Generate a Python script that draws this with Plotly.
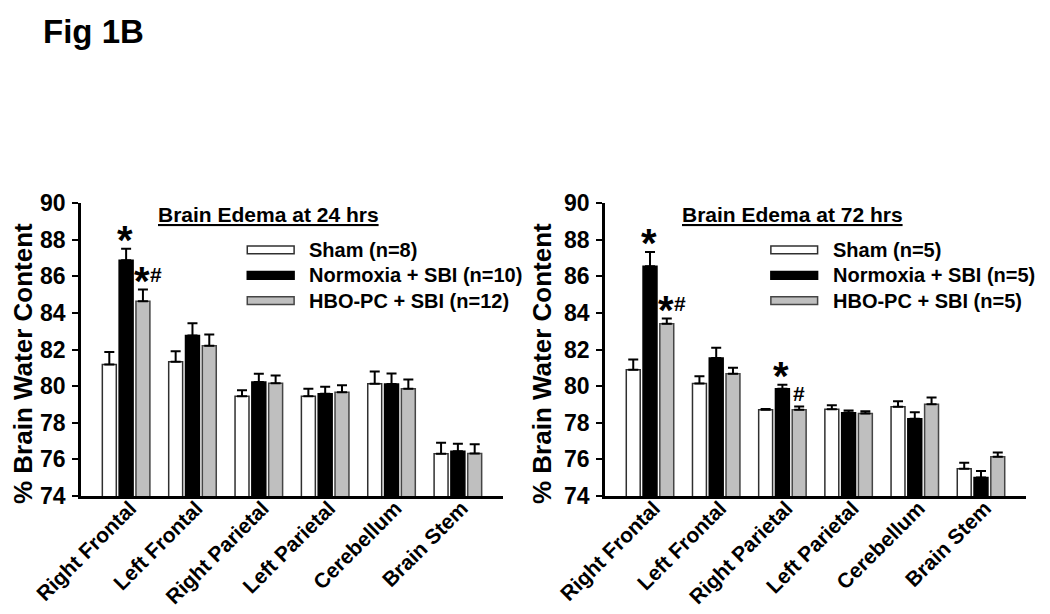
import plotly.graph_objects as go

# ---------------- data ----------------
regions = ["Right Frontal", "Left Frontal", "Right Parietal", "Left Parietal", "Cerebellum", "Brain Stem"]

sham_24 = [81.18, 81.33, 79.45, 79.45, 80.13, 76.31]
sham_24_err = [0.69, 0.57, 0.33, 0.40, 0.67, 0.60]
norm_24 = [86.87, 82.76, 80.23, 79.58, 80.11, 76.45]
norm_24_err = [0.63, 0.67, 0.44, 0.38, 0.58, 0.40]
hbo_24 = [84.63, 82.21, 80.16, 79.67, 79.85, 76.32]
hbo_24_err = [0.64, 0.61, 0.42, 0.38, 0.51, 0.51]

sham_72 = [80.89, 80.14, 78.71, 78.74, 78.87, 75.49]
sham_72_err = [0.56, 0.40, 0.04, 0.22, 0.31, 0.33]
norm_72 = [86.54, 81.54, 79.85, 78.54, 78.22, 75.01]
norm_72_err = [0.79, 0.56, 0.22, 0.13, 0.36, 0.35]
hbo_72 = [83.40, 80.67, 78.71, 78.50, 79.01, 76.15]
hbo_72_err = [0.29, 0.33, 0.18, 0.13, 0.37, 0.23]

legend_24 = ["Sham (n=8)", "Normoxia + SBI (n=10)", "HBO-PC + SBI (n=12)"]
legend_72 = ["Sham (n=5)", "Normoxia + SBI (n=5)", "HBO-PC + SBI (n=5)"]
panel_titles = ["Brain Edema at 24 hrs", "Brain Edema at 72 hrs"]
y_title = "% Brain Water Content"
fig_label = "Fig 1B"
y_ticks = [74, 76, 78, 80, 82, 84, 86, 88, 90]

# significance marks: (region index, group index, mark)
sig_24 = [(0, 1, "*"), (0, 2, "*#")]
sig_72 = [(0, 1, "*"), (0, 2, "*#"), (2, 1, "*"), (2, 2, "#")]

# ---------------- style / layout helpers ----------------
FONT = "Liberation Sans, Arial, Helvetica, sans-serif"
fills = ["#ffffff", "#000000", "#bfbfbf"]
edges = ["#303030", "#000000", "#454545"]
BARGAP = 0.24
GROUPGAP = 0.17
SLOT = (1 - BARGAP) / 3

# the page body adds an 8px margin; the figure is sized to fit the window
PAGE_PAD = 8
W, H = 1050 - PAGE_PAD, 614 - PAGE_PAD


def fx(px):
    return (px - PAGE_PAD) / W


def fy(py):
    return 1 - (py - PAGE_PAD) / H


panels = [
    dict(vals=[sham_24, norm_24, hbo_24], errs=[sham_24_err, norm_24_err, hbo_24_err],
         names=legend_24, title=panel_titles[0], sig=sig_24, xa="x", ya="y",
         xdom=[fx(81), fx(503)], ytitle_x=fx(23)),
    dict(vals=[sham_72, norm_72, hbo_72], errs=[sham_72_err, norm_72_err, hbo_72_err],
         names=legend_72, title=panel_titles[1], sig=sig_72, xa="x2", ya="y2",
         xdom=[fx(605), fx(1026)], ytitle_x=fx(542)),
]
ydom = [fy(496), fy(203)]

fig = go.Figure()
annotations = []
shapes = []

for p in panels:
    for g in range(3):
        fig.add_trace(go.Bar(
            x=regions, y=p["vals"][g], name=p["names"][g],
            xaxis=p["xa"], yaxis=p["ya"],
            marker=dict(color=fills[g], line=dict(color=edges[g], width=1.5)),
            error_y=dict(type="data", array=p["errs"][g], arrayminus=[0] * len(regions),
                         symmetric=False, color="black", thickness=2, width=5),
            showlegend=False, hoverinfo="skip",
        ))
    xd = p["xa"] + " domain"
    yd = p["ya"] + " domain"
    # panel title
    annotations.append(dict(text="<u>" + p["title"] + "</u>", xref=xd, yref=yd,
                            x=0.445, y=0.962, xanchor="center", yanchor="middle",
                            showarrow=False, font=dict(size=21, weight="bold", family=FONT)))
    # legend
    rows = [0.840, 0.753, 0.667]
    for g in range(3):
        shapes.append(dict(type="rect", xref=xd, yref=yd, x0=0.394, x1=0.505,
                           y0=rows[g] - 0.013, y1=rows[g] + 0.013,
                           fillcolor=fills[g], line=dict(color=edges[g], width=1.5)))
        annotations.append(dict(text=p["names"][g], xref=xd, yref=yd, x=0.536, y=rows[g],
                                xanchor="left", yanchor="middle", showarrow=False,
                                font=dict(size=20, weight="bold", family=FONT)))
    # y title
    annotations.append(dict(text=y_title, xref="paper", yref="paper", x=p["ytitle_x"],
                            y=fy(364), textangle=-90, xanchor="center", yanchor="middle",
                            showarrow=False, font=dict(size=26, weight="bold", family=FONT)))
    # significance marks
    for (r, g, mark) in p["sig"]:
        xpos = r + (g - 1) * SLOT
        top = p["vals"][g][r] + p["errs"][g][r]
        if mark.startswith("*"):
            annotations.append(dict(text="*", xref=p["xa"], yref=p["ya"], x=xpos, y=top,
                                    xanchor="center", yanchor="bottom", yshift=-15, xshift=-1,
                                    showarrow=False, font=dict(size=40, weight="bold", family=FONT)))
            if mark.endswith("#"):
                annotations.append(dict(text="#", xref=p["xa"], yref=p["ya"], x=xpos, y=top,
                                        xanchor="left", yanchor="bottom", yshift=2, xshift=5,
                                        showarrow=False, font=dict(size=21, weight="bold", family=FONT)))
        else:
            annotations.append(dict(text="#", xref=p["xa"], yref=p["ya"], x=xpos, y=top,
                                    xanchor="center", yanchor="bottom", yshift=-1,
                                    showarrow=False, font=dict(size=21, weight="bold", family=FONT)))

annotations.append(dict(text=fig_label, xref="paper", yref="paper", x=fx(41), y=fy(31.5),
                        xanchor="left", yanchor="middle", showarrow=False,
                        font=dict(size=33, weight="bold", family=FONT)))

xaxis_common = dict(type="category", range=[-0.68, 5.68], showline=True, linecolor="black",
                    linewidth=2.5, ticks="", tickangle=-45, showgrid=False, zeroline=False,
                    automargin=False, ticklabelstandoff=-11, ticklabelshift=4,
                    tickfont=dict(size=21, weight="bold", family=FONT, color="black"))
yaxis_common = dict(range=[74, 90], tickvals=y_ticks, showline=True, linecolor="black",
                    linewidth=2.5, ticks="outside", ticklen=6, tickwidth=2, tickcolor="black",
                    showgrid=False, zeroline=False, automargin=False, ticklabelstandoff=2,
                    tickfont=dict(size=23, weight="bold", family=FONT, color="black"))

fig.update_layout(
    width=W, height=H, margin=dict(l=0, r=0, t=0, b=0, autoexpand=False),
    paper_bgcolor="white", plot_bgcolor="white",
    barmode="group", bargap=BARGAP, bargroupgap=GROUPGAP,
    font=dict(family=FONT, color="black"), showlegend=False,
    xaxis=dict(domain=panels[0]["xdom"], anchor="y", **xaxis_common),
    yaxis=dict(domain=ydom, anchor="x", **yaxis_common),
    xaxis2=dict(domain=panels[1]["xdom"], anchor="y2", **xaxis_common),
    yaxis2=dict(domain=ydom, anchor="x2", **yaxis_common),
    annotations=annotations, shapes=shapes,
)

fig.write_html("out.html")
